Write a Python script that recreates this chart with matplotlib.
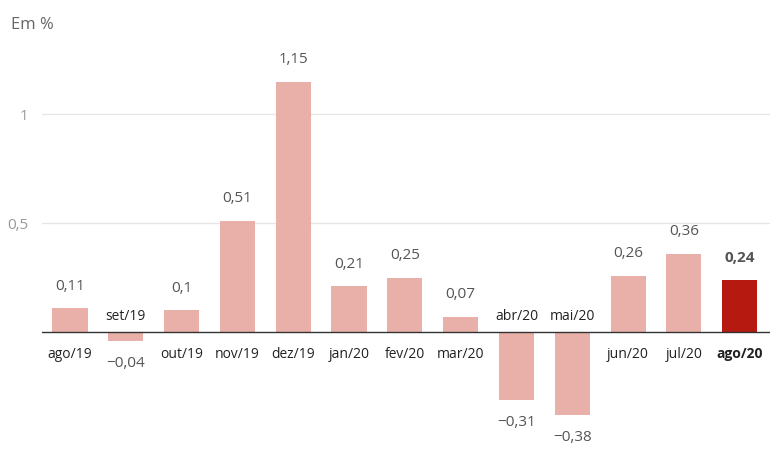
import matplotlib
matplotlib.use("Agg")
import matplotlib.pyplot as plt

plt.rcParams["font.family"] = "Open Sans"

months = ["ago/19", "set/19", "out/19", "nov/19", "dez/19", "jan/20", "fev/20",
          "mar/20", "abr/20", "mai/20", "jun/20", "jul/20", "ago/20"]
values = [0.11, -0.04, 0.10, 0.51, 1.15, 0.21, 0.25, 0.07, -0.31, -0.38, 0.26, 0.36, 0.24]
yticks = [0.5, 1]
ytick_labels = ["0,5", "1"]

C_BAR = "#e8b0a9"; C_HI = "#b5190f"; C_TXT = "#555555"

fig = plt.figure(figsize=(7.8, 4.7), dpi=100)
ax = fig.add_axes([0.054, 7 / 470, 0.933, 425 / 470])
x = range(len(months))
colors = [C_BAR] * (len(months) - 1) + [C_HI]
ax.bar(x, values, width=0.63, color=colors, zorder=2)
ax.set_xlim(-0.5, 12.54)
ax.set_ylim(-0.6, 1.35)

for yt in yticks:
    ax.axhline(yt, color="#e6e6e6", lw=1, zorder=1)
ax.axhline(0, color="#333333", lw=1, zorder=3)
ax.set_yticks(yticks)
ax.set_yticklabels(ytick_labels, color="#999999", fontsize=11)
ax.tick_params(axis="y", length=0, pad=10)
ax.set_xticks([])
for s in ax.spines.values():
    s.set_visible(False)

for i, (m, v) in enumerate(zip(months, values)):
    last = i == len(months) - 1
    fw = "bold" if last else "normal"
    lab = f"{v:g}".replace(".", ",").replace("-", "\u2212")
    if v >= 0:
        ax.annotate(m, (i, 0), xytext=(0, -16), textcoords="offset points", ha="center",
                    va="center", fontsize=10, color="#222222", fontweight=fw)
        ax.annotate(lab, (i, v), xytext=(0, 16), textcoords="offset points", ha="center",
                    va="center", fontsize=11, color=C_TXT, fontweight=fw)
    else:
        ax.annotate(m, (i, 0), xytext=(0, 11), textcoords="offset points", ha="center",
                    va="center", fontsize=10, color="#222222")
        ax.annotate(lab, (i, v), xytext=(0, -16), textcoords="offset points", ha="center",
                    va="center", fontsize=11, color=C_TXT)

fig.text(11 / 780, 1 - 25 / 470, "Em %", fontsize=12, color="#666666", va="center")
fig.savefig("out.png", dpi=100)
